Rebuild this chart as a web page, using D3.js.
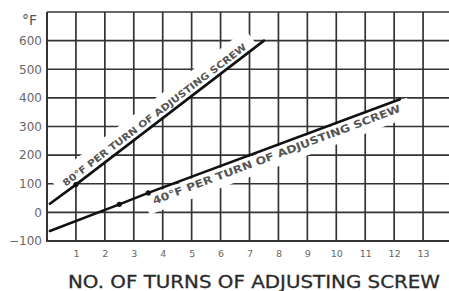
<!DOCTYPE html>
<html>
<head>
<meta charset="utf-8">
<script src="https://cdn.jsdelivr.net/npm/d3@7"></script>
<style>
  body { margin: 0; background: #fff; }
  svg { display: block; }
</style>
</head>
<body>
<script>
// turns of adjusting screw vs. temperature (°F)
const line80 = [[0.1, 30], [1, 97], [7.5, 600]];
const dots80 = [[1, 97]];
const line40 = [[0.1, -65], [2.5, 28], [3.5, 68], [12.2, 395]];
const dots40 = [[2.5, 28], [3.5, 68]];
const xTicks = [1, 2, 3, 4, 5, 6, 7, 8, 9, 10, 11, 12, 13];
const yTicks = [-100, 0, 100, 200, 300, 400, 500, 600];
const label80 = "80°F PER TURN OF ADJUSTING SCREW";
const label40 = "40°F PER TURN OF ADJUSTING SCREW";
const xTitle = "NO. OF TURNS OF ADJUSTING SCREW";

const w = 449;
const h = 291;

const xScale = d3.scaleLinear().domain([0, 14]).range([47, 452]);
const yScale = d3.scaleLinear().domain([-100, 700]).range([241, 12]);

const svg = d3.select("body")
  .append("svg")
  .attr("width", w)
  .attr("height", h);

const grid = svg.append("g").attr("stroke", "#333").attr("stroke-width", 1.7);

// vertical grid lines
grid.selectAll("line.v")
  .data(d3.range(0, 15))
  .enter()
  .append("line")
  .attr("class", "v")
  .attr("x1", d => xScale(d))
  .attr("x2", d => xScale(d))
  .attr("y1", yScale(700))
  .attr("y2", yScale(-100));

// horizontal grid lines
grid.selectAll("line.h")
  .data(d3.range(-100, 800, 100))
  .enter()
  .append("line")
  .attr("class", "h")
  .attr("x1", xScale(0))
  .attr("x2", xScale(14))
  .attr("y1", d => yScale(d))
  .attr("y2", d => yScale(d));

// axes (labels only, grid already drawn)
const xAxis = d3.axisBottom(xScale).tickValues(xTicks).tickSize(0).tickPadding(9);
const yAxis = d3.axisLeft(yScale).tickValues(yTicks).tickSize(0).tickPadding(5);

const gx = svg.append("g")
  .attr("transform", "translate(0," + yScale(-100) + ")")
  .call(xAxis);
gx.select(".domain").remove();
gx.selectAll("text")
  .attr("font-family", "DejaVu Sans")
  .attr("font-size", 9.5)
  .attr("fill", "#666");

const gy = svg.append("g")
  .attr("transform", "translate(" + xScale(0) + ",0)")
  .call(yAxis);
gy.select(".domain").remove();
gy.selectAll("text")
  .attr("font-family", "DejaVu Sans")
  .attr("font-size", 12)
  .attr("fill", "#666");

svg.append("text")
  .attr("x", 22)
  .attr("y", 25)
  .attr("font-family", "DejaVu Sans")
  .attr("font-size", 14)
  .attr("fill", "#555")
  .text("°F");

// left and bottom border
svg.append("path")
  .attr("d", `M${xScale(0)},${yScale(700)}V${yScale(-100)}H${xScale(14)}`)
  .attr("fill", "none")
  .attr("stroke", "#333")
  .attr("stroke-width", 2);

// labels along lines with a white band behind them
function lineLabel(pts, text, side, along0, len, fontSize) {
  const p0 = [xScale(pts[0][0]), yScale(pts[0][1])];
  const p1 = [xScale(pts[pts.length - 1][0]), yScale(pts[pts.length - 1][1])];
  const ang = Math.atan2(p1[1] - p0[1], p1[0] - p0[0]) * 180 / Math.PI;
  const g = svg.append("g")
    .attr("transform", `translate(${p0[0]},${p0[1]}) rotate(${ang})`);
  g.append("rect")
    .attr("x", along0 - 8)
    .attr("width", len + 18)
    .attr("y", side < 0 ? -20 : 1)
    .attr("height", 19)
    .attr("fill", "#fff");
  g.append("text")
    .attr("x", along0)
    .attr("y", side < 0 ? -4 : 4 + fontSize * 0.75)
    .attr("font-family", "DejaVu Sans")
    .attr("font-weight", "bold")
    .attr("font-size", fontSize)
    .attr("fill", "#555")
    .attr("textLength", len)
    .attr("lengthAdjust", "spacingAndGlyphs")
    .text(text);
}

lineLabel(line80, label80, -1, 23, 228, 9.5);
lineLabel(line40, label40, 1, 107, 264, 10.5);

const lineGen = d3.line().x(d => xScale(d[0])).y(d => yScale(d[1]));

[line80, line40].forEach(pts => {
  svg.append("path")
    .datum(pts)
    .attr("d", lineGen)
    .attr("fill", "none")
    .attr("stroke", "#111")
    .attr("stroke-width", 2.6)
    .attr("stroke-linecap", "round");
});

svg.selectAll("circle.dot")
  .data(dots80.concat(dots40))
  .enter()
  .append("circle")
  .attr("class", "dot")
  .attr("cx", d => xScale(d[0]))
  .attr("cy", d => yScale(d[1]))
  .attr("r", 2.6)
  .attr("fill", "#111");

svg.append("text")
  .attr("x", 254)
  .attr("y", 288)
  .attr("text-anchor", "middle")
  .attr("font-family", "DejaVu Sans")
  .attr("font-size", 17)
  .attr("fill", "#2a2a2a")
  .attr("stroke", "#2a2a2a")
  .attr("stroke-width", 0.3)
  .attr("textLength", 372)
  .attr("lengthAdjust", "spacingAndGlyphs")
  .text(xTitle);
</script>
</body>
</html>
